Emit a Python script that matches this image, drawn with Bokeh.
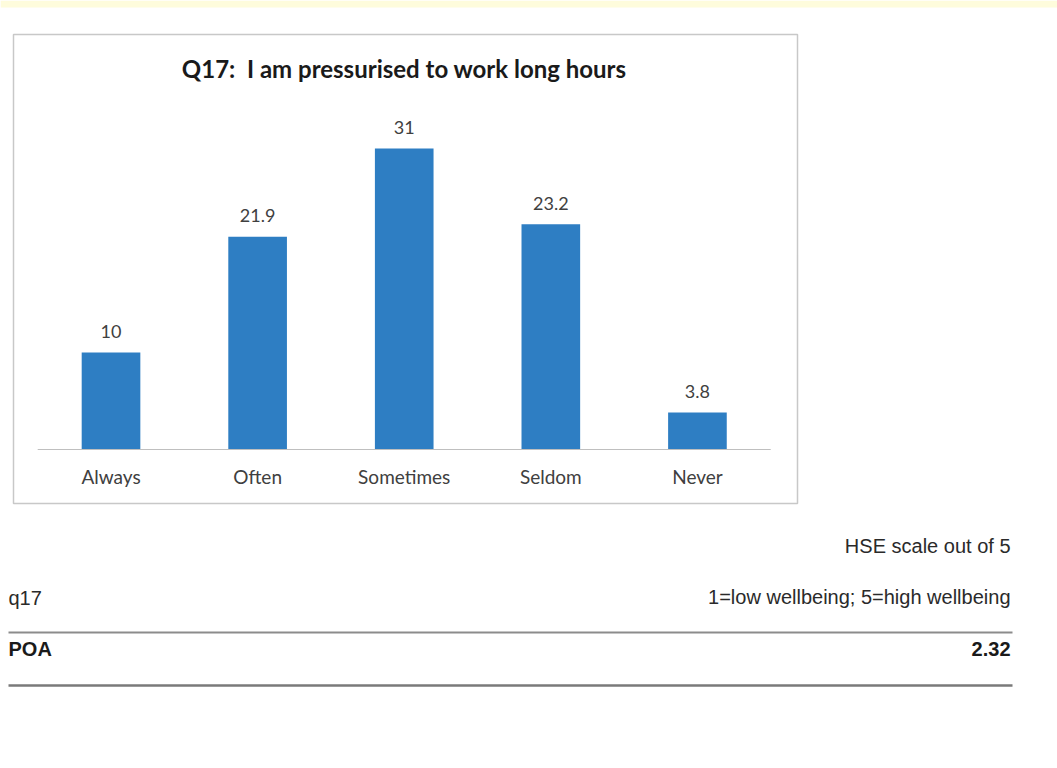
from bokeh.plotting import figure
from bokeh.models import Range1d, ColumnDataSource
from bokeh.core.properties import value
from bokeh.embed import file_html
from bokeh.resources import INLINE

# ---- data ----
categories = ["Always", "Often", "Sometimes", "Seldom", "Never"]
percentages = [10, 21.9, 31, 23.2, 3.8]
chart_title = "Q17:\u00a0 I am pressurised to work long hours"

scale_note = "HSE scale out of 5"
scale_desc = "1=low wellbeing; 5=high wellbeing"
question_code = "q17"
group_names = ["POA"]
group_scores = [2.32]

W, H = 1057, 768

idx = list(range(len(categories)))
src = ColumnDataSource(dict(
    x=idx,
    top=percentages,
    cat=categories,
    lab=[f"{v:g}" for v in percentages],
))

# main data ranges chosen so that the plot area sits inside the chart box
p = figure(width=W, height=H, output_backend="svg", toolbar_location=None,
           x_axis_location=None, y_axis_location=None, title=None,
           x_range=Range1d(-0.7538, 6.456), y_range=Range1d(-32.85, 46.24),
           min_border=0)
p.grid.visible = False
p.outline_line_color = None
p.background_fill_color = "white"
p.border_fill_color = "white"

# page-pixel range for decorations (box, table)
p.extra_x_ranges = {"px": Range1d(0, W)}
p.extra_y_ranges = {"px": Range1d(H, 0)}

# top yellow band
p.quad(left=[0], right=[W], top=[0], bottom=[7], x_range_name="px", y_range_name="px",
       fill_color="#FEFCDC", line_color=None)

# chart box
p.quad(left=[13], right=[797], top=[34], bottom=[503], x_range_name="px", y_range_name="px",
       fill_color="white", line_color="#c8c8c8", line_width=1.5)

# bars
p.vbar(x="x", top="top", bottom=0, width=0.4, source=src,
       fill_color="#2E7EC3", line_color=None)

# baseline (category axis line)
p.segment(x0=[-0.5], y0=[0], x1=[len(categories) - 0.5], y1=[0],
          line_color="#bfbfbf", line_width=1.2)

# category labels
p.text(x="x", y=0, text="cat", source=src, text_align="center", text_baseline="middle",
       y_offset=27, text_font=value("Lato"), text_font_size="19px", text_color="#404040")

# value labels
p.text(x="x", y="top", text="lab", source=src, text_align="center", text_baseline="middle",
       y_offset=-21, text_font=value("Lato"), text_font_size="18px", text_color="#404040")

# chart title
p.text(x=[(len(categories) - 1) / 2], y=[68], y_range_name="px", text=[chart_title],
       text_align="center", text_baseline="middle", text_font=value("Lato"),
       text_font_style="bold", text_font_size="24px", text_color="#1a1a1a")

# ---- table below ----
p.text(x=[1010, 1010], y=[545, 596], text=[scale_note, scale_desc], text_align="right",
       text_baseline="middle", text_font=value("Liberation Sans"), text_font_size="20px",
       text_color="#2a2a2a", x_range_name="px", y_range_name="px")
p.text(x=[8], y=[597], text=[question_code], text_align="left", text_baseline="middle",
       text_font=value("Liberation Sans"), text_font_size="20px", text_color="#2a2a2a",
       x_range_name="px", y_range_name="px")
p.segment(x0=[8], y0=[632], x1=[1012], y1=[632], line_color="#8c8c8c", line_width=2,
          x_range_name="px", y_range_name="px")
p.text(x=[8], y=[648], text=group_names, text_align="left", text_baseline="middle",
       text_font=value("Liberation Sans"), text_font_style="bold", text_font_size="20px",
       text_color="#1a1a1a", x_range_name="px", y_range_name="px")
p.text(x=[1010], y=[648], text=[f"{s:.2f}" for s in group_scores], text_align="right",
       text_baseline="middle", text_font=value("Liberation Sans"), text_font_style="bold",
       text_font_size="20px", text_color="#1a1a1a", x_range_name="px", y_range_name="px")
p.segment(x0=[8], y0=[685], x1=[1012], y1=[685], line_color="#7a7a7a", line_width=2.5,
          x_range_name="px", y_range_name="px")

open("out.html", "w").write(file_html(p, INLINE))
